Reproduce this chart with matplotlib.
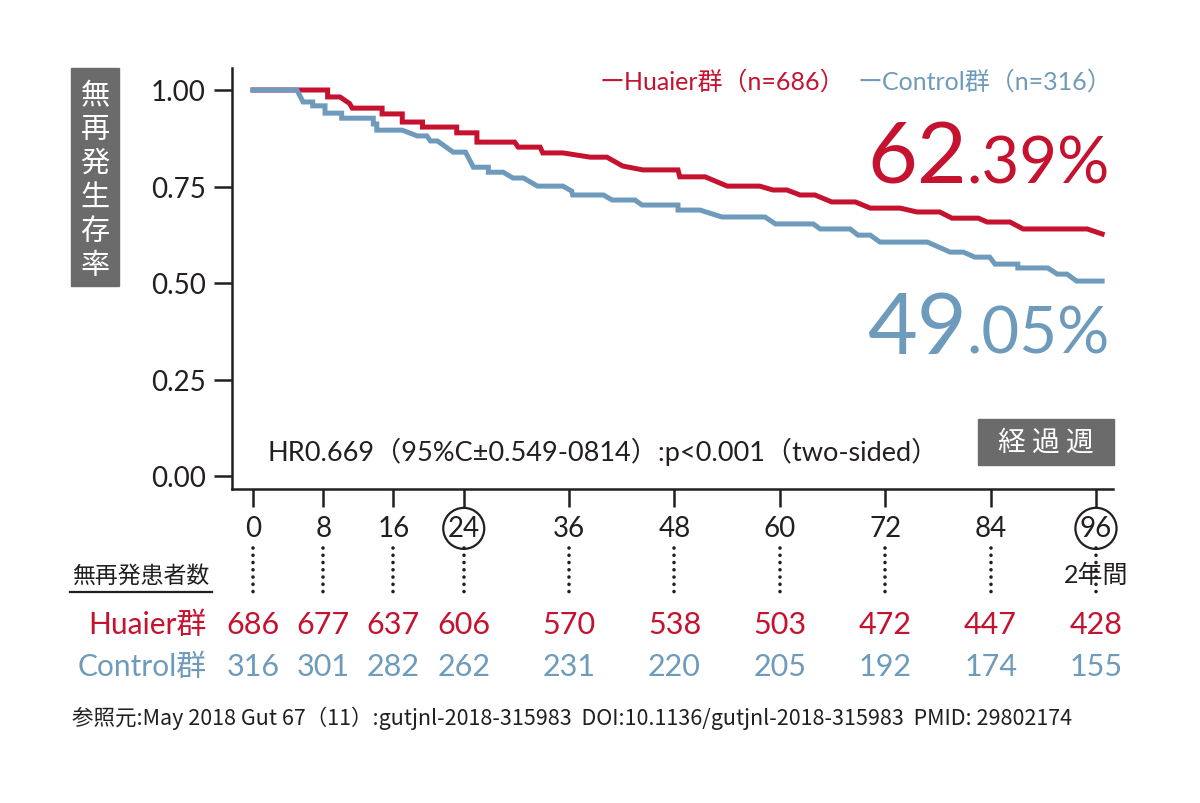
import numpy as np
import matplotlib
matplotlib.use("Agg")
import matplotlib.pyplot as plt
from matplotlib.patches import Rectangle
from matplotlib import transforms

plt.rcParams['font.family'] = ['Lato', 'Noto Sans CJK JP', 'DejaVu Sans']

RED = '#c4122f'
BLUE = '#6e9bbb'
GREY = '#6b6b6b'

# Kaplan-Meier curves (weeks, survival)
huaier_weeks = [0, 8.5, 8.5, 9.9, 11.0, 11.3, 14.7, 14.7, 17.0, 17.0, 19.3, 19.3,
                23.2, 23.2, 25.5, 25.5, 29.8, 30.2, 32.7, 33.0, 35.3, 38.4, 40.3,
                42.1, 44.4, 48.4, 48.6, 51.5, 54.0, 57.7, 59.2, 60.8, 62.3, 64.0,
                65.9, 68.6, 70.3, 73.7, 75.6, 78.2, 79.6, 82.6, 83.6, 86.2, 87.7,
                95.0, 96.7]
huaier_surv = [1.000, 1.000, 0.982, 0.982, 0.965, 0.953, 0.953, 0.938, 0.938, 0.917,
               0.917, 0.904, 0.904, 0.889, 0.889, 0.865, 0.865, 0.852, 0.852, 0.837,
               0.837, 0.826, 0.826, 0.803, 0.793, 0.793, 0.775, 0.775, 0.751, 0.751,
               0.741, 0.741, 0.728, 0.728, 0.710, 0.710, 0.694, 0.694, 0.684, 0.684,
               0.668, 0.668, 0.658, 0.658, 0.640, 0.640, 0.627]

control_weeks = [0, 5.0, 5.7, 6.8, 6.8, 8.2, 8.2, 10.1, 10.1, 13.7, 13.7, 14.1, 14.1,
                 17.0, 18.7, 19.8, 20.2, 21.0, 22.8, 24.2, 25.1, 26.8, 26.8, 28.5,
                 29.6, 30.8, 32.4, 35.3, 36.3, 36.4, 39.9, 40.9, 43.5, 44.3, 48.4,
                 48.4, 50.9, 53.4, 58.3, 59.5, 63.8, 64.6, 68.0, 68.9, 70.3, 71.4,
                 76.8, 79.4, 80.9, 82.2, 83.9, 84.5, 87.1, 87.1, 90.5, 91.6, 92.7,
                 93.8, 96.7]
control_surv = [1.000, 1.000, 0.969, 0.969, 0.959, 0.959, 0.940, 0.940, 0.927, 0.927,
                0.912, 0.912, 0.896, 0.896, 0.881, 0.881, 0.868, 0.868, 0.839, 0.839,
                0.800, 0.800, 0.787, 0.787, 0.772, 0.772, 0.751, 0.751, 0.738, 0.728,
                0.728, 0.715, 0.715, 0.702, 0.702, 0.689, 0.689, 0.671, 0.671, 0.653,
                0.653, 0.640, 0.640, 0.624, 0.624, 0.606, 0.606, 0.580, 0.580, 0.567,
                0.567, 0.549, 0.549, 0.539, 0.539, 0.523, 0.523, 0.505, 0.505]

tick_weeks = [0, 8, 16, 24, 36, 48, 60, 72, 84, 96]
circled = [24, 96]
huaier_at_risk = [686, 677, 637, 606, 570, 538, 503, 472, 447, 428]
control_at_risk = [316, 301, 282, 262, 231, 220, 205, 192, 174, 155]
y_ticks = [0.0, 0.25, 0.5, 0.75, 1.0]

W, H = 1200, 804


def fx(px):
    return px / W


def fy(py):
    return 1 - py / H


fig = plt.figure(figsize=(12, 8.04), dpi=100)
ax = fig.add_axes([fx(232), fy(490), 881 / W, 421 / H])

ax.plot(huaier_weeks, huaier_surv, color=RED, lw=3.6, solid_joinstyle='miter')
ax.plot(control_weeks, control_surv, color=BLUE, lw=3.6, solid_joinstyle='miter')

ax.set_xlim(-21 / 8.781, 860 / 8.781)
ax.set_ylim(-13 / 386, 408 / 386)
for s in ['top', 'right']:
    ax.spines[s].set_visible(False)
for s in ['left', 'bottom']:
    ax.spines[s].set_linewidth(1.8)
    ax.spines[s].set_color('#231f20')

ax.set_yticks(y_ticks)
ax.set_yticklabels([f'{v:.2f}' for v in y_ticks])
ax.set_xticks(tick_weeks)
ax.set_xticklabels([str(w) for w in tick_weeks])
ax.tick_params(axis='both', direction='out', length=13, width=1.8, color='#231f20',
               labelsize=20, labelcolor='#231f20')
ax.tick_params(axis='y', pad=6)
ax.tick_params(axis='x', pad=6)
for lab, w in zip(ax.get_xticklabels(), tick_weeks):
    if w in circled:
        lab.set_bbox(dict(boxstyle='circle,pad=0.16', fc='white', ec='#231f20', lw=1.6))

# y label box
fig.patches.append(Rectangle((fx(71), fy(287)), 48 / W, 218 / H, transform=fig.transFigure,
                             color=GREY, zorder=0))
for i, ch in enumerate('無再発生存率'):
    fig.text(fx(95), fy(96 + i * 34), ch, color='white', fontsize=21,
             ha='center', va='center', family=['Noto Sans CJK JP'])

# x label box
fig.patches.append(Rectangle((fx(978), fy(466)), 136 / W, 46 / H, transform=fig.transFigure,
                             color=GREY, zorder=0))
fig.text(fx(1046), fy(443), '経 過 週', color='white', fontsize=20, ha='center', va='center',
         family=['Noto Sans CJK JP'])

# legend
fig.text(fx(1112), fy(82), 'ーControl群（n=316）', color=BLUE, fontsize=18, ha='right', va='center')
fig.text(fx(845), fy(82), 'ーHuaier群（n=686）', color=RED, fontsize=18, ha='right', va='center')

# big percentages
renderer = fig.canvas.get_renderer()
for big, small, col, base in [('62', '.39%', RED, 183), ('49', '.05%', BLUE, 354)]:
    t = fig.text(fx(1110), fy(base), small, color=col, fontsize=47, ha='right', va='baseline')
    wpx = t.get_window_extent(renderer).width
    fig.text(fx(1110 - wpx), fy(base), big, color=col, fontsize=62, ha='right', va='baseline')

fig.text(fx(268), fy(452), 'HR0.669（95%C±0.549-0814）:p<0.001（two-sided）',
         color='#231f20', fontsize=19.5, ha='left', va='center')

# at-risk table
bt = transforms.blended_transform_factory(ax.transData, fig.transFigure)
for w in tick_weeks:
    ax.plot([w, w], [fy(549), fy(598)], transform=bt, clip_on=False, color='#231f20',
            lw=2.6, linestyle=(0, (0.01, 2.0)), dash_capstyle='round')
fig.text(fx(1096), fy(575), '2年間', fontsize=18, ha='center', va='center', color='#231f20',
         family=['Lato', 'Noto Sans CJK JP'])
fig.text(fx(72), fy(576), '無再発患者数', fontsize=16.5, ha='left', va='center', color='#231f20',
         family=['Noto Sans CJK JP'])
fig.add_artist(plt.Line2D([fx(70), fx(212)], [fy(593), fy(593)], color='#231f20', lw=1.6))

fig.text(fx(207), fy(625), 'Huaier群', fontsize=21.5, ha='right', va='center', color=RED)
fig.text(fx(207), fy(667), 'Control群', fontsize=21.5, ha='right', va='center', color=BLUE)
for w, h, c in zip(tick_weeks, huaier_at_risk, control_at_risk):
    fig.text(w, fy(625), str(h), transform=bt, fontsize=22, ha='center', va='center', color=RED)
    fig.text(w, fy(667), str(c), transform=bt, fontsize=22, ha='center', va='center', color=BLUE)

fig.text(fx(72), fy(718),
         '参照元:May 2018 Gut 67（11）:gutjnl-2018-315983  DOI:10.1136/gutjnl-2018-315983  PMID: 29802174',
         fontsize=15.5, ha='left', va='center', color='#231f20',
         family=['Liberation Sans Narrow', 'Noto Sans CJK JP'])

fig.savefig('out.png', dpi=100, facecolor='white')
